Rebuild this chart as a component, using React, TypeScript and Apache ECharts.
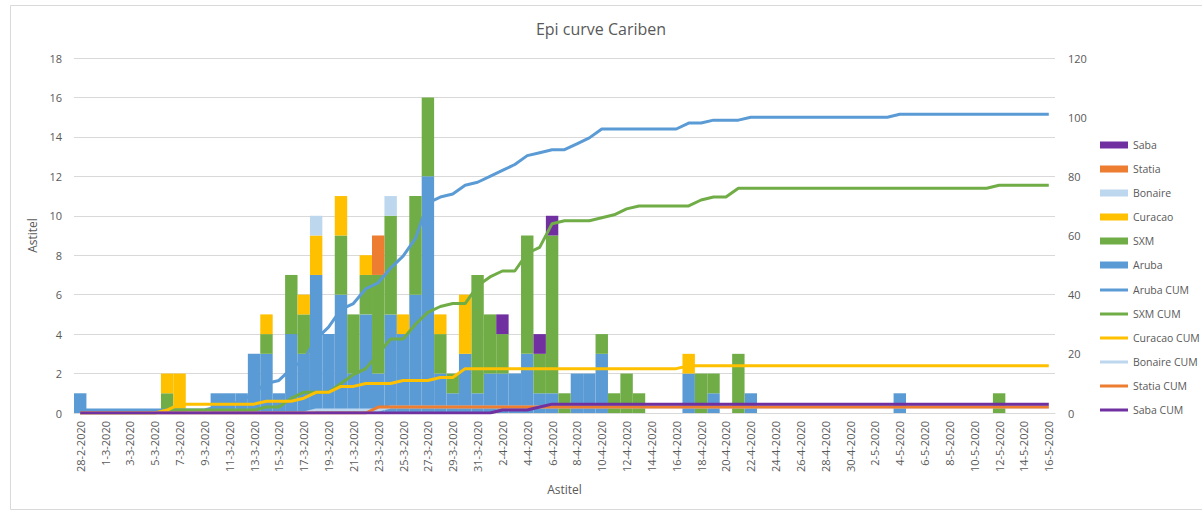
import React, { useEffect, useRef } from "react";
import * as echarts from "echarts";

const dates = [
  "28-2-2020", "29-2-2020",
  "1-3-2020", "2-3-2020", "3-3-2020", "4-3-2020", "5-3-2020", "6-3-2020", "7-3-2020", "8-3-2020", "9-3-2020", "10-3-2020",
  "11-3-2020", "12-3-2020", "13-3-2020", "14-3-2020", "15-3-2020", "16-3-2020", "17-3-2020", "18-3-2020", "19-3-2020", "20-3-2020",
  "21-3-2020", "22-3-2020", "23-3-2020", "24-3-2020", "25-3-2020", "26-3-2020", "27-3-2020", "28-3-2020", "29-3-2020", "30-3-2020", "31-3-2020",
  "1-4-2020", "2-4-2020", "3-4-2020", "4-4-2020", "5-4-2020", "6-4-2020", "7-4-2020", "8-4-2020", "9-4-2020", "10-4-2020",
  "11-4-2020", "12-4-2020", "13-4-2020", "14-4-2020", "15-4-2020", "16-4-2020", "17-4-2020", "18-4-2020", "19-4-2020", "20-4-2020",
  "21-4-2020", "22-4-2020", "23-4-2020", "24-4-2020", "25-4-2020", "26-4-2020", "27-4-2020", "28-4-2020", "29-4-2020", "30-4-2020",
  "1-5-2020", "2-5-2020", "3-5-2020", "4-5-2020", "5-5-2020", "6-5-2020", "7-5-2020", "8-5-2020", "9-5-2020", "10-5-2020",
  "11-5-2020", "12-5-2020", "13-5-2020", "14-5-2020", "15-5-2020", "16-5-2020",
];

// daily cases (left axis)
const aruba = [
  1, 0, 0, 0, 0, 0, 0, 0, 0, 0,
  0, 1, 1, 1, 3, 3, 1, 4, 3, 7,
  4, 6, 2, 5, 2, 5, 4, 6, 12, 2,
  1, 3, 1, 2, 2, 2, 3, 1, 1, 0,
  2, 2, 3, 0, 0, 0, 0, 0, 0, 2,
  0, 1, 0, 0, 1, 0, 0, 0, 0, 0,
  0, 0, 0, 0, 0, 0, 1, 0, 0, 0,
  0, 0, 0, 0, 0, 0, 0, 0, 0,
];
const sxm = [
  0, 0, 0, 0, 0, 0, 0, 1, 0, 0,
  0, 0, 0, 0, 0, 1, 0, 3, 2, 0,
  0, 3, 3, 2, 5, 5, 0, 5, 4, 2,
  1, 0, 6, 3, 2, 0, 6, 2, 8, 1,
  0, 0, 1, 1, 2, 1, 0, 0, 0, 0,
  2, 1, 0, 3, 0, 0, 0, 0, 0, 0,
  0, 0, 0, 0, 0, 0, 0, 0, 0, 0,
  0, 0, 0, 0, 1, 0, 0, 0, 0,
];
const curacao = [
  0, 0, 0, 0, 0, 0, 0, 1, 2, 0,
  0, 0, 0, 0, 0, 1, 0, 0, 1, 2,
  0, 2, 0, 1, 0, 0, 1, 0, 0, 1,
  0, 3, 0, 0, 0, 0, 0, 0, 0, 0,
  0, 0, 0, 0, 0, 0, 0, 0, 0, 1,
  0, 0, 0, 0, 0, 0, 0, 0, 0, 0,
  0, 0, 0, 0, 0, 0, 0, 0, 0, 0,
  0, 0, 0, 0, 0, 0, 0, 0, 0,
];
const bonaire = [
  0, 0, 0, 0, 0, 0, 0, 0, 0, 0,
  0, 0, 0, 0, 0, 0, 0, 0, 0, 1,
  0, 0, 0, 0, 0, 1, 0, 0, 0, 0,
  0, 0, 0, 0, 0, 0, 0, 0, 0, 0,
  0, 0, 0, 0, 0, 0, 0, 0, 0, 0,
  0, 0, 0, 0, 0, 0, 0, 0, 0, 0,
  0, 0, 0, 0, 0, 0, 0, 0, 0, 0,
  0, 0, 0, 0, 0, 0, 0, 0, 0,
];
const statia = [
  0, 0, 0, 0, 0, 0, 0, 0, 0, 0,
  0, 0, 0, 0, 0, 0, 0, 0, 0, 0,
  0, 0, 0, 0, 2, 0, 0, 0, 0, 0,
  0, 0, 0, 0, 0, 0, 0, 0, 0, 0,
  0, 0, 0, 0, 0, 0, 0, 0, 0, 0,
  0, 0, 0, 0, 0, 0, 0, 0, 0, 0,
  0, 0, 0, 0, 0, 0, 0, 0, 0, 0,
  0, 0, 0, 0, 0, 0, 0, 0, 0,
];
const saba = [
  0, 0, 0, 0, 0, 0, 0, 0, 0, 0,
  0, 0, 0, 0, 0, 0, 0, 0, 0, 0,
  0, 0, 0, 0, 0, 0, 0, 0, 0, 0,
  0, 0, 0, 0, 1, 0, 0, 1, 1, 0,
  0, 0, 0, 0, 0, 0, 0, 0, 0, 0,
  0, 0, 0, 0, 0, 0, 0, 0, 0, 0,
  0, 0, 0, 0, 0, 0, 0, 0, 0, 0,
  0, 0, 0, 0, 0, 0, 0, 0, 0,
];

// cumulative cases (right axis)
const arubaCum = [
  1, 1, 1, 1, 1, 1, 1, 1, 1, 1,
  1, 2, 3, 4, 7, 10, 11, 15, 18, 25,
  29, 35, 37, 42, 44, 49, 53, 59, 71, 73,
  74, 77, 78, 80, 82, 84, 87, 88, 89, 89,
  91, 93, 96, 96, 96, 96, 96, 96, 96, 98,
  98, 99, 99, 99, 100, 100, 100, 100, 100, 100,
  100, 100, 100, 100, 100, 100, 101, 101, 101, 101,
  101, 101, 101, 101, 101, 101, 101, 101, 101,
];
const sxmCum = [
  0, 0, 0, 0, 0, 0, 0, 1, 1, 1,
  1, 1, 1, 1, 1, 2, 2, 5, 7, 7,
  7, 10, 13, 15, 20, 25, 25, 30, 34, 36,
  37, 37, 43, 46, 48, 48, 54, 56, 64, 65,
  65, 65, 66, 67, 69, 70, 70, 70, 70, 70,
  72, 73, 73, 76, 76, 76, 76, 76, 76, 76,
  76, 76, 76, 76, 76, 76, 76, 76, 76, 76,
  76, 76, 76, 76, 77, 77, 77, 77, 77,
];
const curacaoCum = [
  0, 0, 0, 0, 0, 0, 0, 1, 3, 3,
  3, 3, 3, 3, 3, 4, 4, 4, 5, 7,
  7, 9, 9, 10, 10, 10, 11, 11, 11, 12,
  12, 15, 15, 15, 15, 15, 15, 15, 15, 15,
  15, 15, 15, 15, 15, 15, 15, 15, 15, 16,
  16, 16, 16, 16, 16, 16, 16, 16, 16, 16,
  16, 16, 16, 16, 16, 16, 16, 16, 16, 16,
  16, 16, 16, 16, 16, 16, 16, 16, 16,
];
const bonaireCum = [
  0, 0, 0, 0, 0, 0, 0, 0, 0, 0,
  0, 0, 0, 0, 0, 0, 0, 0, 0, 1,
  1, 1, 1, 1, 1, 2, 2, 2, 2, 2,
  2, 2, 2, 2, 2, 2, 2, 2, 2, 2,
  2, 2, 2, 2, 2, 2, 2, 2, 2, 2,
  2, 2, 2, 2, 2, 2, 2, 2, 2, 2,
  2, 2, 2, 2, 2, 2, 2, 2, 2, 2,
  2, 2, 2, 2, 2, 2, 2, 2, 2,
];
const statiaCum = [
  0, 0, 0, 0, 0, 0, 0, 0, 0, 0,
  0, 0, 0, 0, 0, 0, 0, 0, 0, 0,
  0, 0, 0, 0, 2, 2, 2, 2, 2, 2,
  2, 2, 2, 2, 2, 2, 2, 2, 2, 2,
  2, 2, 2, 2, 2, 2, 2, 2, 2, 2,
  2, 2, 2, 2, 2, 2, 2, 2, 2, 2,
  2, 2, 2, 2, 2, 2, 2, 2, 2, 2,
  2, 2, 2, 2, 2, 2, 2, 2, 2,
];
const sabaCum = [
  0, 0, 0, 0, 0, 0, 0, 0, 0, 0,
  0, 0, 0, 0, 0, 0, 0, 0, 0, 0,
  0, 0, 0, 0, 0, 0, 0, 0, 0, 0,
  0, 0, 0, 0, 1, 1, 1, 2, 3, 3,
  3, 3, 3, 3, 3, 3, 3, 3, 3, 3,
  3, 3, 3, 3, 3, 3, 3, 3, 3, 3,
  3, 3, 3, 3, 3, 3, 3, 3, 3, 3,
  3, 3, 3, 3, 3, 3, 3, 3, 3,
];

const barLegend = ["Saba", "Statia", "Bonaire", "Curacao", "SXM", "Aruba"];
const lineLegend = ["Aruba CUM", "SXM CUM", "Curacao CUM", "Bonaire CUM", "Statia CUM", "Saba CUM"];

const FONT = "'Open Sans', sans-serif";
const TXT = "#595959";
const C = {
  aruba: "#5B9BD5",
  sxm: "#70AD47",
  curacao: "#FFC000",
  bonaire: "#BDD7EE",
  statia: "#ED7D31",
  saba: "#7030A0",
};

export default function App() {
  const ref = useRef<HTMLDivElement>(null);
  useEffect(() => {
    if (!ref.current) return;
    const chart = echarts.init(ref.current, undefined, { renderer: "svg" });
    const bar = (name: string, data: number[], color: string) => ({
      name,
      type: "bar",
      stack: "daily",
      yAxisIndex: 0,
      barCategoryGap: "0%",
      itemStyle: { color },
      data,
    });
    const line = (name: string, data: number[], color: string) => ({
      name,
      type: "line",
      yAxisIndex: 1,
      symbol: "none",
      showSymbol: false,
      lineStyle: { color, width: 3 },
      itemStyle: { color },
      data,
    });
    const legendText = { fontFamily: FONT, fontSize: 10.5, color: TXT, lineHeight: 14 };
    chart.setOption({
      animation: false,
      textStyle: { fontFamily: FONT },
      title: {
        text: "Epi curve Cariben",
        left: "center",
        top: 16,
        textStyle: { fontFamily: FONT, fontSize: 16, fontWeight: "normal", color: TXT },
      },
      graphic: [
        {
          type: "rect",
          silent: true,
          shape: { x: 10.5, y: 5.5, width: 1200, height: 504 },
          style: { fill: "none", stroke: "#d9d9d9", lineWidth: 1 },
        },
      ],
      legend: [
        {
          orient: "vertical",
          left: 1100,
          top: 138,
          padding: 0,
          itemWidth: 28,
          itemHeight: 7,
          itemGap: 10,
          icon: "rect",
          textStyle: legendText,
          data: barLegend,
        },
        {
          orient: "vertical",
          left: 1100,
          top: 283,
          padding: 0,
          itemWidth: 28,
          itemHeight: 3,
          itemGap: 10,
          icon: "rect",
          textStyle: legendText,
          data: lineLegend,
        },
      ],
      grid: { left: 74, right: 147, top: 58, bottom: 99, containLabel: false },
      xAxis: {
        type: "category",
        data: dates,
        name: "Astitel",
        nameLocation: "middle",
        nameGap: 70,
        nameTextStyle: { fontFamily: FONT, fontSize: 12, color: TXT },
        axisLine: { lineStyle: { color: "#d9d9d9" } },
        axisTick: { show: false },
        axisLabel: { rotate: 90, interval: 1, fontFamily: FONT, fontSize: 11, color: TXT, margin: 8 },
      },
      yAxis: [
        {
          type: "value",
          min: 0,
          max: 18,
          interval: 2,
          name: "Astitel",
          nameLocation: "middle",
          nameGap: 27,
          nameTextStyle: { fontFamily: FONT, fontSize: 12, color: TXT },
          axisLine: { show: false },
          axisTick: { show: false },
          splitLine: { lineStyle: { color: "#d9d9d9" } },
          axisLabel: { fontFamily: FONT, fontSize: 11, color: TXT, margin: 12 },
        },
        {
          type: "value",
          min: 0,
          max: 120,
          interval: 20,
          axisLine: { show: false },
          axisTick: { show: false },
          splitLine: { show: false },
          axisLabel: { fontFamily: FONT, fontSize: 11, color: TXT, margin: 13 },
        },
      ],
      series: [
        bar("Aruba", aruba, C.aruba),
        bar("SXM", sxm, C.sxm),
        bar("Curacao", curacao, C.curacao),
        bar("Bonaire", bonaire, C.bonaire),
        bar("Statia", statia, C.statia),
        bar("Saba", saba, C.saba),
        line("Aruba CUM", arubaCum, C.aruba),
        line("SXM CUM", sxmCum, C.sxm),
        line("Curacao CUM", curacaoCum, C.curacao),
        line("Bonaire CUM", bonaireCum, C.bonaire),
        line("Statia CUM", statiaCum, C.statia),
        line("Saba CUM", sabaCum, C.saba),
      ],
    });
    return () => chart.dispose();
  }, []);
  return (
    <div
      ref={ref}
      style={{ position: "fixed", left: 0, top: 0, width: 1202, height: 512, background: "#fff" }}
    />
  );
}
